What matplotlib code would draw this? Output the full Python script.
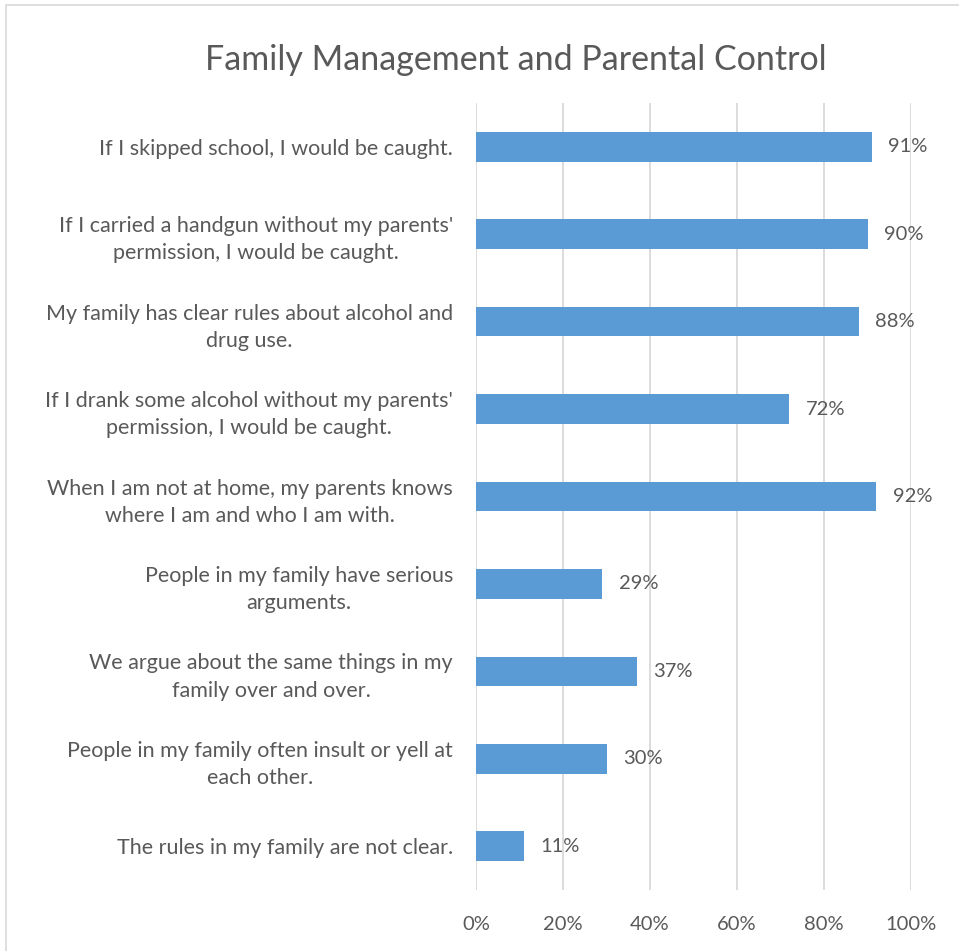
import matplotlib
matplotlib.use("Agg")

import matplotlib.pyplot as plt
from matplotlib.patches import Rectangle

categories = [
    "If I skipped school, I would be caught.",
    "If I carried a handgun without my parents'\npermission, I would be caught.",
    "My family has clear rules about alcohol and\ndrug use.",
    "If I drank some alcohol without my parents'\npermission, I would be caught.",
    "When I am not at home, my parents knows\nwhere I am and who I am with.",
    "People in my family have serious\narguments.",
    "We argue about the same things in my\nfamily over and over.",
    "People in my family often insult or yell at\neach other.",
    "The rules in my family are not clear.",
]
values = [91, 90, 88, 72, 92, 29, 37, 30, 11]
xticks = [0, 20, 40, 60, 80, 100]

text_color = "#595959"
bar_color = "#5B9BD5"
grid_color = "#D9D9D9"

plt.rcParams["font.family"] = ["Lato", "DejaVu Sans"]

W, H = 959, 951
fig = plt.figure(figsize=(W / 100, H / 100), dpi=100)
ax = fig.add_axes([476 / W, 1 - 890 / H, 435 / W, 787 / H])

# outer chart frame
fig.patches.append(Rectangle((5.5 / W, -0.1), 2, 1 - 5.5 / H + 0.1,
                             transform=fig.transFigure, fill=False,
                             edgecolor=grid_color, linewidth=1.2))

ypos = list(range(len(categories)))
ax.barh(ypos, values, height=0.34, color=bar_color, zorder=3)
for y, v in zip(ypos, values):
    ax.text(v + 3.8, y, f"{v}%", va="center", ha="left", fontsize=14.5, color=text_color)

ax.set_xlim(0, 100)
ax.set_ylim(len(categories) - 0.5, -0.5)
ax.set_xticks(xticks)
ax.set_xticklabels([f"{t}%" for t in xticks], fontsize=14.5, color=text_color)
ax.set_yticks(ypos)
ax.set_yticklabels(categories, fontsize=15.5, color=text_color,
                   multialignment="center", linespacing=1.45)
ax.tick_params(axis="both", length=0)
ax.tick_params(axis="x", pad=19)
ax.tick_params(axis="y", pad=16.5)
ax.grid(axis="x", color=grid_color, linewidth=1.3, zorder=0)
for s in ax.spines.values():
    s.set_visible(False)

fig.text(516 / W, 1 - 60 / H, "Family Management and Parental Control",
         ha="center", va="center", fontsize=24.5, color=text_color)

fig.savefig("out.png", dpi=100)
